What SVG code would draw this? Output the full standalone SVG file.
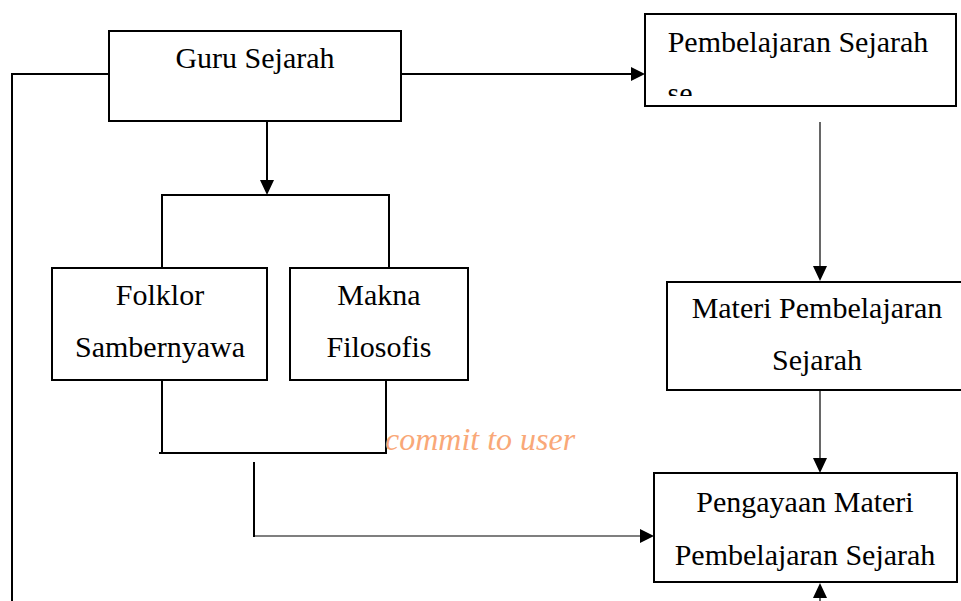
<svg xmlns="http://www.w3.org/2000/svg" width="961" height="601" viewBox="0 0 961 601">
<style>
.box{fill:#fff;stroke:#000;stroke-width:2}
.t{font-family:"Liberation Serif","Times New Roman",serif;font-size:30px;fill:#000;text-anchor:middle}
.c{fill:none;stroke:#000;stroke-width:2}
.thin{fill:none;stroke:#000;stroke-width:1.2}
.ah{fill:#000}
.wm{font-family:"Liberation Serif","Times New Roman",serif;font-style:italic;font-size:32px;fill:#f9a878}
</style>
<defs>
<clipPath id="clipSe"><rect x="640" y="80" width="200" height="16"/></clipPath>
</defs>
<rect width="961" height="601" fill="#fff"/>
<g id="connectors">
  <path class="c" d="M109 74 H12 V601"/>
  <path class="c" d="M401 74 H632"/>
  <polygon class="ah" points="645,74 631,67 631,81"/>
  <path class="c" d="M267 121 V181"/>
  <polygon class="ah" points="267,195 260,180 274,180"/>
  <path class="c" d="M162 268 V195 H389 V268"/>
  <path class="c" d="M162 380 V453 H386 V380"/>
  <path class="c" d="M159 453 H162"/>
  <path class="c" d="M254 462 V537"/>
  <path class="thin" d="M254 536 H641"/>
  <polygon class="ah" points="654,536 640,529 640,543"/>
  <path class="thin" d="M820 122 V267"/>
  <polygon class="ah" points="820,281 813,266 827,266"/>
  <path class="thin" d="M820 380 V460"/>
  <polygon class="ah" points="820,473 813,458 827,458"/>
  <path class="thin" d="M820 601 V595"/>
  <polygon class="ah" points="820,583 813,598 827,598"/>
</g>
<g id="guru">
  <rect class="box" x="109" y="31" width="292" height="90"/>
  <text class="t" x="255" y="68">Guru Sejarah</text>
</g>
<g id="pembelajaran">
  <rect class="box" x="645" y="14" width="311" height="92"/>
  <text class="t" x="798" y="52">Pembelajaran Sejarah</text>
  <text class="t" x="680" y="103" clip-path="url(#clipSe)">se</text>
</g>
<g id="folklor">
  <rect class="box" x="52" y="268" width="215" height="112"/>
  <text class="t" x="160" y="305">Folklor</text>
  <text class="t" x="160" y="357">Sambernyawa</text>
</g>
<g id="makna">
  <rect class="box" x="290" y="268" width="178" height="112"/>
  <text class="t" x="379" y="305">Makna</text>
  <text class="t" x="379" y="357">Filosofis</text>
</g>
<g id="materi">
  <rect class="box" x="667" y="282" width="300" height="108"/>
  <text class="t" x="817" y="318">Materi Pembelajaran</text>
  <text class="t" x="817" y="370">Sejarah</text>
</g>
<g id="pengayaan">
  <rect class="box" x="654" y="473" width="303" height="109"/>
  <text class="t" x="805" y="512">Pengayaan Materi</text>
  <text class="t" x="805" y="565">Pembelajaran Sejarah</text>
</g>
<g id="watermark">
  <text class="wm" x="385" y="450">commit to user</text>
</g>
</svg>
